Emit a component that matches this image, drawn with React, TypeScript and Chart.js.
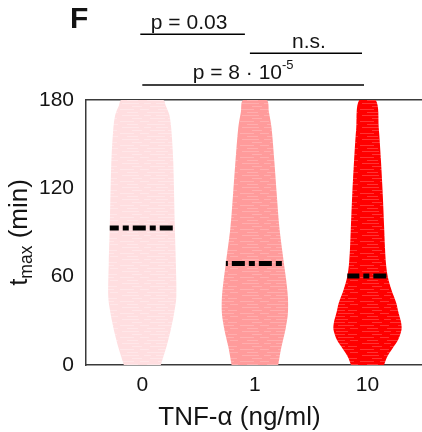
import React, { useEffect, useRef } from 'react';
import { Chart, registerables } from 'chart.js';

Chart.register(...registerables);

// ---------------- data ----------------
const categories = ['0', '1', '10'];
const yTickValues = [0, 60, 120, 180];
const medianValues = [93, 69, 60.5];

// violin outlines: value levels (min) and half widths (in category units)
const levels0 = [0, 12, 24, 35, 46, 69, 93, 138, 160, 170, 176, 180];
const halfWidths0 = [0.164, 0.213, 0.253, 0.282, 0.302, 0.298, 0.289, 0.275, 0.258, 0.24, 0.209, 0.185];

const levels1 = [0, 12, 24, 35, 46, 58, 69, 93, 115, 138, 161, 172, 180];
const halfWidths1 = [0.207, 0.235, 0.271, 0.293, 0.293, 0.277, 0.258, 0.218, 0.195, 0.173, 0.148, 0.124, 0.104];

const levels2 = [0, 5, 12, 17, 24, 29, 36, 42, 51, 60, 69, 80, 93, 115, 138, 161, 180];
const halfWidths2 = [0.147, 0.171, 0.229, 0.271, 0.302, 0.298, 0.274, 0.256, 0.213, 0.18, 0.164, 0.155, 0.148, 0.136, 0.12, 0.1, 0.073];

const violinLevels = [levels0, levels1, levels2];
const violinHalfWidths = [halfWidths0, halfWidths1, halfWidths2];

const fillColors = ['#FFDEE0', '#FF9B9B', '#FF0000'];
const streakColors = ['#FFE7E9', '#FFAEAE', '#FF3434'];

const comparisonLabels = ['p = 0.03', 'n.s.', 'p = 8 · 10'];
const comparisonSuperscripts = ['', '', '-5'];

const panelLabel = 'F';
const xTitle = 'TNF-α (ng/ml)';
const yTitleMain = 't';
const yTitleSub = 'max';
const yTitleRest = ' (min)';

// ---------------- style ----------------
const FONT = '"Liberation Sans", Arial, Helvetica, sans-serif';
const TEXT = '#141414';
const AXIS = '#3a3a3a';

function makePattern(base: string, streak: string): CanvasPattern | string {
  const c = document.createElement('canvas');
  c.width = 60;
  c.height = 12;
  const g = c.getContext('2d');
  if (!g) return base;
  g.fillStyle = base;
  g.fillRect(0, 0, 60, 12);
  g.fillStyle = streak;
  const segs = [
    [0, 1, 14], [20, 1, 9], [38, 1, 16],
    [7, 4, 11], [27, 4, 18], [50, 4, 8],
    [2, 7, 17], [24, 7, 7], [36, 7, 12],
    [12, 10, 10], [30, 10, 15], [48, 10, 9],
  ];
  for (const [x, y, l] of segs) g.fillRect(x, y, l, 1);
  const p = g.createPattern(c, 'repeat');
  return p || base;
}

function widthAt(levels: number[], widths: number[], v: number): number {
  for (let i = 0; i < levels.length - 1; i++) {
    if (v >= levels[i] && v <= levels[i + 1]) {
      const t = (v - levels[i]) / (levels[i + 1] - levels[i]);
      return widths[i] + t * (widths[i + 1] - widths[i]);
    }
  }
  return widths[widths.length - 1];
}

const annotationPlugin = {
  id: 'annotations',
  afterDraw(chart: any) {
    const ctx: CanvasRenderingContext2D = chart.ctx;
    const xs = chart.scales.x;
    ctx.save();
    ctx.fillStyle = TEXT;
    ctx.strokeStyle = '#000';
    ctx.textBaseline = 'alphabetic';

    // panel label
    ctx.font = `bold 30px ${FONT}`;
    ctx.textAlign = 'left';
    ctx.fillText(panelLabel, 70, 28);

    // significance brackets
    const pairs = [[0, 1], [1, 2], [0, 2]];
    const lineY = [34.3, 53.3, 85];
    const ends = [[-2, -10], [-5, -5.5], [0, -3.5]];
    const textShift = [-3.5, 3, -10];
    const textBase = [29, 48.3, 79.3];
    ctx.lineWidth = 1.4;
    pairs.forEach((pr, i) => {
      const x1 = xs.getPixelForValue(pr[0]) + ends[i][0];
      const x2 = xs.getPixelForValue(pr[1]) + ends[i][1];
      ctx.beginPath();
      ctx.moveTo(x1, lineY[i]);
      ctx.lineTo(x2, lineY[i]);
      ctx.stroke();
      ctx.font = `21px ${FONT}`;
      const w1 = ctx.measureText(comparisonLabels[i]).width;
      ctx.font = `13px ${FONT}`;
      const w2 = comparisonSuperscripts[i] ? ctx.measureText(comparisonSuperscripts[i]).width : 0;
      const cx = (x1 + x2) / 2 + textShift[i];
      const sx = cx - (w1 + w2) / 2;
      ctx.textAlign = 'left';
      ctx.font = `21px ${FONT}`;
      ctx.fillText(comparisonLabels[i], sx, textBase[i]);
      if (w2) {
        ctx.font = `13px ${FONT}`;
        ctx.fillText(comparisonSuperscripts[i], sx + w1, textBase[i] - 10);
      }
    });

    // x title
    ctx.font = `26px ${FONT}`;
    ctx.textAlign = 'center';
    ctx.fillText(xTitle, 239.5, 425);

    // y title with subscript
    ctx.save();
    ctx.translate(26.5, 232.5);
    ctx.rotate(-Math.PI / 2);
    ctx.textAlign = 'left';
    ctx.font = `26px ${FONT}`;
    const wt = ctx.measureText(yTitleMain).width;
    const wr = ctx.measureText(yTitleRest).width;
    ctx.font = `17.5px ${FONT}`;
    const ws = ctx.measureText(yTitleSub).width;
    let sx = -(wt + ws + wr) / 2;
    ctx.font = `26px ${FONT}`;
    ctx.fillText(yTitleMain, sx, 0);
    sx += wt;
    ctx.font = `17.5px ${FONT}`;
    ctx.fillText(yTitleSub, sx, 5);
    sx += ws;
    ctx.font = `26px ${FONT}`;
    ctx.fillText(yTitleRest, sx, 0);
    ctx.restore();

    ctx.restore();
  },
};

export default function App() {
  const ref = useRef<HTMLCanvasElement | null>(null);

  useEffect(() => {
    if (!ref.current) return;
    const datasets: any[] = [];
    violinLevels.forEach((levels, i) => {
      const widths = violinHalfWidths[i];
      const pts: { x: number; y: number }[] = [];
      for (let k = 0; k < levels.length; k++) pts.push({ x: i - widths[k], y: levels[k] });
      for (let k = levels.length - 1; k >= 0; k--) pts.push({ x: i + widths[k], y: levels[k] });
      datasets.push({
        type: 'line',
        data: pts,
        fill: 'shape',
        backgroundColor: makePattern(fillColors[i], streakColors[i]),
        borderWidth: 0,
        borderColor: 'rgba(0,0,0,0)',
        pointRadius: 0,
        tension: 0.3,
        order: 1,
      });
    });
    const dashOffsets = [4, 21, 1];
    medianValues.forEach((m, i) => {
      const w = widthAt(violinLevels[i], violinHalfWidths[i], m);
      datasets.push({
        type: 'line',
        data: [
          { x: i - w, y: m },
          { x: i + w, y: m },
        ],
        fill: false,
        borderColor: '#000',
        borderWidth: 5,
        borderDash: [13, 4, 6, 4],
        borderDashOffset: dashOffsets[i],
        borderCapStyle: 'butt',
        pointRadius: 0,
        tension: 0,
        order: 0,
      });
    });

    const chart = new Chart(ref.current, {
      type: 'line',
      data: { datasets },
      options: {
        animation: false,
        responsive: false,
        devicePixelRatio: 1,
        layout: { padding: 0 },
        plugins: { legend: { display: false }, tooltip: { enabled: false } },
        scales: {
          x: {
            type: 'linear',
            position: 'bottom',
            min: -0.5,
            max: 2.484,
            grid: { display: false, drawTicks: false },
            border: { display: true, color: AXIS, width: 1.5 },
            ticks: {
              font: { family: FONT, size: 21 },
              color: TEXT,
              padding: 8,
              callback: (v: any) => categories[v] ?? '',
            },
            afterBuildTicks: (s: any) => {
              s.ticks = categories.map((_, i) => ({ value: i }));
            },
            afterFit: (s: any) => {
              s.height = 67;
            },
          },
          xTop: {
            type: 'linear',
            position: 'top',
            min: -0.5,
            max: 2.484,
            grid: { display: false, drawTicks: false },
            border: { display: true, color: AXIS, width: 1.5 },
            ticks: { display: false },
            afterFit: (s: any) => {
              s.height = 100;
            },
          },
          y: {
            type: 'linear',
            min: 0,
            max: 180,
            grid: { display: false, drawTicks: false },
            border: { display: true, color: AXIS, width: 1.5 },
            ticks: {
              font: { family: FONT, size: 21 },
              color: TEXT,
              padding: 12,
            },
            afterBuildTicks: (s: any) => {
              s.ticks = yTickValues.map((v) => ({ value: v }));
            },
            afterFit: (s: any) => {
              s.width = 86;
            },
          },
        },
      },
      plugins: [annotationPlugin],
    } as any);
    return () => chart.destroy();
  }, []);

  return (
    <div style={{ position: 'absolute', left: 0, top: 0, width: 422, height: 432, background: '#fff' }}>
      <canvas ref={ref} width={422} height={432} style={{ display: 'block' }} />
    </div>
  );
}
